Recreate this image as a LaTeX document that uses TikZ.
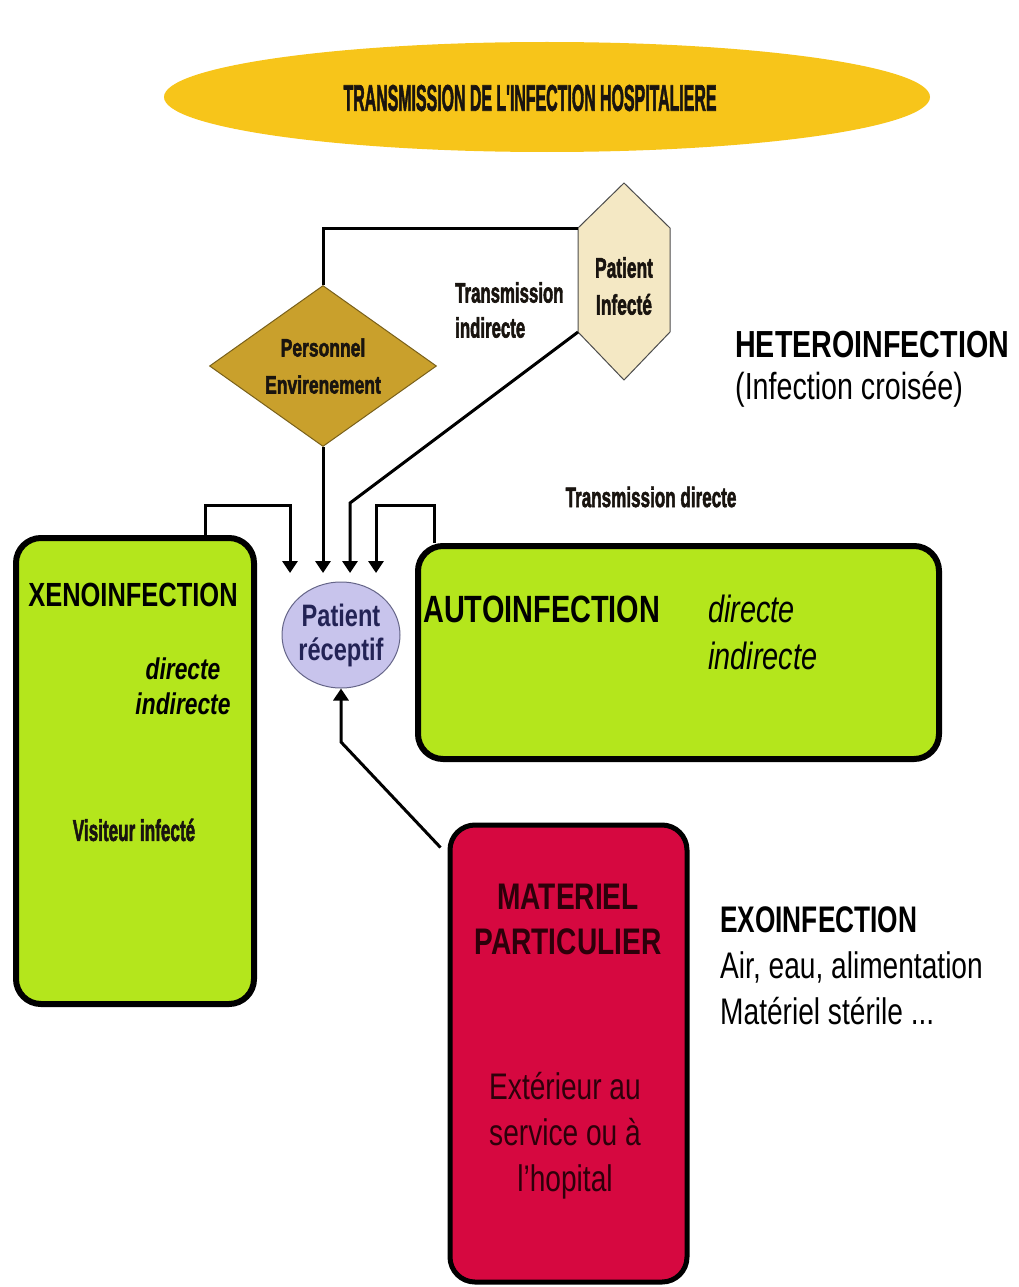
\documentclass[tikz,border=0pt]{standalone}
\usepackage{fontspec}
\setmainfont{Liberation Sans}
\newfontfamily\impactfont{Liberation Sans}[FakeBold=2.5]
\usetikzlibrary{arrows.meta,shapes.geometric}

\definecolor{gold}{RGB}{247,197,26}
\definecolor{ochre}{RGB}{201,160,44}
\definecolor{beige}{RGB}{244,232,196}
\definecolor{lime}{RGB}{180,230,28}
\definecolor{lavender}{RGB}{200,196,236}
\definecolor{crimson}{RGB}{214,8,64}
\definecolor{navy}{RGB}{35,35,85}
\definecolor{ink}{RGB}{25,20,15}
\definecolor{matink}{RGB}{45,0,10}

\newcommand{\sq}[1]{\scalebox{0.76}[1]{#1}}
\newcommand{\cnd}[2]{\scalebox{#1}[1]{#2}}

\tikzset{
  conn/.style={line width=3pt,black},
  arr/.style={conn,-{Triangle[width=15pt,length=12pt]}},
  greenbox/.style={draw,line width=6pt,fill=lime,rounded corners=25pt,inner sep=0pt},
  condtxt/.style={text=ink,inner sep=0pt,align=center},
  plain/.style={inner sep=0pt}
}

\begin{document}
\begin{tikzpicture}[x=1pt,y=-1pt]
\useasboundingbox (0,0) rectangle (1019,1287);
% titre
\node[ellipse,fill=gold,minimum width=766pt,minimum height=110pt,inner sep=0pt] (title) at (547,97) {};
\node[condtxt,font=\fontsize{37}{40}\selectfont\impactfont\bfseries] (titlelab) at (530,98) {\cnd{0.43}{TRANSMISSION DE L'INFECTION HOSPITALIERE}};
% heteroinfection
\node[diamond,shape aspect=1.41,fill=ochre,draw=ochre!60!black,line width=1pt,minimum width=227pt,minimum height=161pt,condtxt,font=\fontsize{25}{37}\selectfont\impactfont\bfseries] (pers) at (323,366) {\cnd{0.7}{Personnel}\\\cnd{0.7}{Envirenement}};
\coordinate (pinfc) at (624,281);
\draw[fill=beige,draw=gray!60!black,line width=1pt] (pinfc) ++(0,-98) -- ++(46,45) -- ++(0,104) -- ++(-46,48) -- ++(-46,-48) -- ++(0,-104) -- cycle;
\path (pinfc) ++(-46,-53) coordinate (pinfUL) ++(0,104) coordinate (pinfLL);
\node[condtxt,font=\fontsize{28}{37}\selectfont\impactfont\bfseries] (pinf) at ([yshift=-5pt]pinfc) {\cnd{0.62}{Patient}\\\cnd{0.62}{Infecté}};
\node[condtxt,align=left,anchor=west,font=\fontsize{28}{35}\selectfont\impactfont\bfseries] (tind) at (455,310) {\cnd{0.6}{Transmission}\\\cnd{0.6}{indirecte}};
\node[plain,anchor=west,align=left,font=\fontsize{37.7}{42}\selectfont] (hetero) at (735,369) {\sq{\bfseries HETEROINFECTION}\\\sq{(Infection croisée)}};
\node[condtxt,font=\fontsize{28}{34}\selectfont\impactfont\bfseries] (tdir) at (651,497) {\cnd{0.61}{Transmission directe}};
% boites
\node[greenbox,minimum width=238pt,minimum height=466pt] (xeno) at (135,771) {};
\node[greenbox,minimum width=521pt,minimum height=213pt] (auto) at (678.5,652.5) {};
\node[draw,line width=5pt,fill=crimson,rounded corners=25pt,inner sep=0pt,minimum width=237pt,minimum height=457pt] (mat) at (568.5,1053.5) {};
\node[plain,font=\fontsize{33.5}{40}\selectfont\bfseries] (xenolab) at (133,595) {\sq{XENOINFECTION}};
\node[plain,align=center,font=\fontsize{30}{35}\selectfont\bfseries\itshape] (xenodir) at (183,686) {\sq{directe}\\\sq{indirecte}};
\node[condtxt,font=\fontsize{30}{36}\selectfont\impactfont\bfseries] (visit) at (134,830) {\cnd{0.57}{Visiteur infecté}};
\node[plain,anchor=west,font=\fontsize{38}{44}\selectfont\bfseries] (autolab) at (423,609) {\sq{AUTOINFECTION}};
\node[plain,anchor=west,align=left,font=\fontsize{38}{47}\selectfont\itshape] (autodir) at (708,632) {\sq{directe}\\\sq{indirecte}};
\node[plain,align=center,text=matink,font=\fontsize{37}{45}\selectfont\bfseries] (matlab) at (568,919) {\sq{MATERIEL}\\\sq{PARTICULIER}};
\node[plain,align=center,text=matink,font=\fontsize{37}{46}\selectfont] (matext) at (565,1136) {\sq{Extérieur au}\\\sq{service ou à}\\\sq{l'hopital}};
\node[plain,anchor=west,align=left,font=\fontsize{37}{46}\selectfont] (exo) at (720,966) {\cnd{0.71}{\bfseries EXOINFECTION}\\\sq{Air, eau, alimentation}\\\sq{Matériel stérile ...}};
% patient receptif
\node[ellipse,fill=lavender,draw=navy!70,line width=1pt,minimum width=118pt,minimum height=106pt,inner sep=0pt] (prec) at (341,635) {};
\node[plain,align=center,text=navy,font=\fontsize{31}{34}\selectfont\bfseries] (preclab) at (prec.center) {\sq{Patient}\\\sq{réceptif}};
% fleches
\coordinate (inA) at (290,573);
\coordinate (inB) at (323,573);
\coordinate (inC) at (350,573);
\coordinate (inD) at (376,573);
\coordinate (mbend) at (341,742);
\draw[conn] (pers.north) |- (pinfUL);
\draw[arr] ([xshift=70pt]xeno.north) |- ([yshift=68pt]inA) -- (inA);
\draw[arr] (pers.south) -- (inB);
\draw[arr] (pinfLL) -- ([yshift=70pt]inC) -- (inC);
\draw[arr] ([xshift=19pt]auto.north west) |- ([yshift=68pt]inD) -- (inD);
\draw[arr] ([shift={(-7,25)}]mat.north west) -- (mbend) -- (prec.south);
\end{tikzpicture}
\end{document}
